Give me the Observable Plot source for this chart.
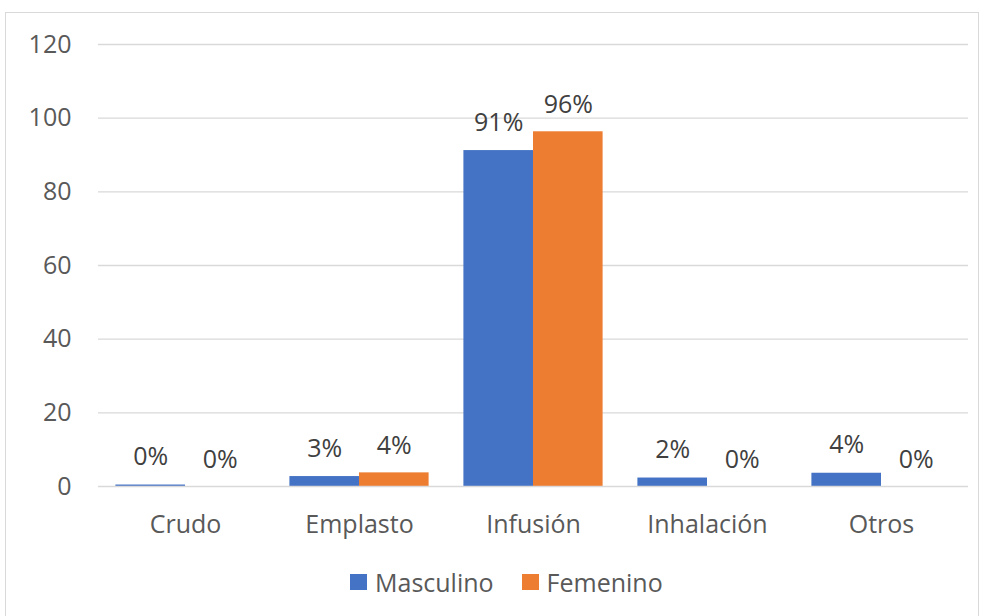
<!DOCTYPE html>
<html>
<head>
<meta charset="utf-8">
<script src="https://cdn.jsdelivr.net/npm/d3@7"></script>
<script src="https://cdn.jsdelivr.net/npm/@observablehq/plot@0.6"></script>
<style>
  body { margin: 0; background: #fff; font-family: "Open Sans", "Noto Sans", sans-serif; }
  #frame { position: absolute; left: 5px; top: 12px; width: 974px; height: 620px; border: 1px solid #d9d9d9; box-sizing: border-box; }
  #chart { position: absolute; left: 0; top: 0; }
  #legend { position: absolute; left: 344px; top: 552px; height: 34px; display: flex; align-items: center; gap: 28px; font-size: 25px; line-height: 34px; color: #595959; }
  #legend span.item { display: flex; align-items: center; }
  #legend span.sw { display: inline-block; width: 17px; height: 16px; margin-right: 8px; }
</style>
</head>
<body>
<div id="frame">
  <div id="chart"></div>
  <div id="legend"></div>
</div>
<script>
const categories = ["Crudo", "Emplasto", "Infusión", "Inhalación", "Otros"];
const series = ["Masculino", "Femenino"];
const colors = ["#4472C4", "#ED7D31"];
const masculino = [0.4, 2.7, 91.2, 2.3, 3.6];
const femenino = [0, 3.7, 96.3, 0, 0];
const masculinoLabels = ["0%", "3%", "91%", "2%", "4%"];
const femeninoLabels = ["0%", "4%", "96%", "0%", "0%"];
const yTicks = [0, 20, 40, 60, 80, 100, 120];

const width = 972, height = 560, marginLeft = 92, marginRight = 10, marginTop = 31, marginBottom = 87;
const step = (width - marginLeft - marginRight) / categories.length;

const rowsM = categories.map((c, i) => ({cat: c, value: masculino[i], label: masculinoLabels[i]}));
const rowsF = categories.map((c, i) => ({cat: c, value: femenino[i], label: femeninoLabels[i]}));

const plot = Plot.plot({
  width, height, marginLeft, marginRight, marginTop, marginBottom,
  style: {fontFamily: "'Open Sans', 'Noto Sans', sans-serif", fontSize: "25px", color: "#595959", background: "transparent", overflow: "visible"},
  x: {domain: categories, padding: 0, label: null, tickSize: 0, tickPadding: 29},
  y: {domain: [0, 120], ticks: yTicks, label: null, tickSize: 0, tickPadding: 27},
  marks: [
    Plot.ruleY(yTicks.filter(d => d > 0), {stroke: "#d9d9d9", strokeWidth: 1.3}),
    Plot.barY(rowsM, {x: "cat", y: "value", fill: colors[0], insetLeft: step * 0.1, insetRight: step * 0.5}),
    Plot.barY(rowsF, {x: "cat", y: "value", fill: colors[1], insetLeft: step * 0.5, insetRight: step * 0.1}),
    Plot.ruleY([0], {stroke: "#d9d9d9", strokeWidth: 1.5}),
    Plot.text(rowsM, {x: "cat", y: "value", text: "label", dx: -step * 0.2, dy: -28, lineAnchor: "middle", fill: "#404040", fontSize: 25}),
    Plot.text(rowsF, {x: "cat", y: "value", text: "label", dx: step * 0.2, dy: -27, lineAnchor: "middle", fill: "#404040", fontSize: 25})
  ]
});
document.getElementById("chart").appendChild(plot);

const legend = document.getElementById("legend");
series.forEach((s, i) => {
  const item = document.createElement("span");
  item.className = "item";
  const sw = document.createElement("span");
  sw.className = "sw";
  sw.style.background = colors[i];
  item.appendChild(sw);
  item.appendChild(document.createTextNode(s));
  legend.appendChild(item);
});
</script>
</body>
</html>
